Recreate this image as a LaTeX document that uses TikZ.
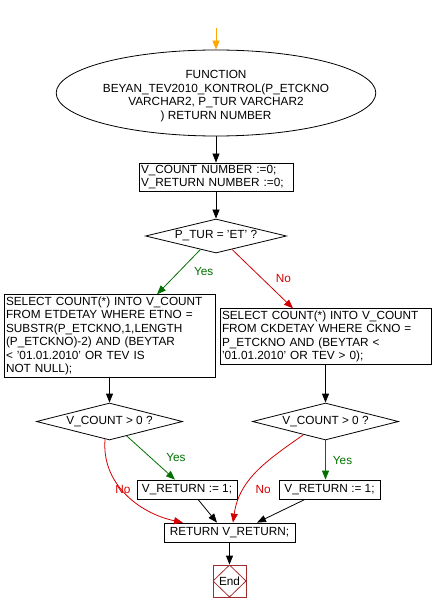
\documentclass[tikz,border=0pt]{standalone}
\usepackage{fontspec}
\setsansfont{Liberation Sans}
\usetikzlibrary{shapes.geometric, arrows.meta}
\definecolor{yescol}{RGB}{0,112,0}
\definecolor{nocol}{RGB}{210,0,0}
\definecolor{startcol}{RGB}{255,165,0}
\definecolor{endcol}{RGB}{160,45,45}
\tikzset{ fn/.style = { ellipse
                      , draw
                      , line width     = 0.8pt
                      , inner sep      = 0pt
                      , minimum width  = 264pt
                      , minimum height = 86pt
                      , align          = center
                      },
          st/.style = { rectangle
                      , draw
                      , line width = 0.8pt
                      , inner sep  = 2pt
                      , align      = left
                      },
          dec/.style = { diamond
                       , draw
                       , line width = 0.8pt
                       , inner sep  = 0pt
                       , aspect     = 4
                       },
          fin/.style = { rectangle
                       , draw = endcol
                       , line width     = 0.8pt
                       , inner sep      = 0pt
                       , minimum width  = 33pt
                       , minimum height = 32pt
                       , path picture = {\draw[endcol, line width=0.8pt]
                           (path picture bounding box.north) -- (path picture bounding box.east)
                           -- (path picture bounding box.south) -- (path picture bounding box.west) -- cycle;}
                       },
          flow/.style = { draw, line width = 0.8pt, -{Triangle[length=9pt, width=7pt]} },
          lbl/.style  = { inner sep = 1pt }
        }

\begin{document}
\begin{tikzpicture}[x=1pt, y=-1pt, font=\sffamily\fontsize{11.8}{13.5}\selectfont]
    \useasboundingbox (0,0) rectangle (433,612);
    % function head
    \coordinate (top) at (216,28);
    \node[fn, text height=55pt] (func) at (216,93)
        {FUNCTION\\BEYAN\_TEV2010\_KONTROL(P\_ETCKNO\\VARCHAR2, P\_TUR VARCHAR2\\) RETURN NUMBER};
    \node[st, text width=150pt] (init) at (216,177)
        {V\_COUNT NUMBER :=0;\\V\_RETURN NUMBER :=0;};
    \node[dec, minimum width=141pt, minimum height=34pt] (tur) at (216,236) {P\_TUR = 'ET' ?};
    % the two selects
    \node[st, text width=207pt] (selet) at (109.5,336)
        {SELECT COUNT(*) INTO V\_COUNT\\FROM ETDETAY WHERE ETNO =\\SUBSTR(P\_ETCKNO,1,LENGTH\\(P\_ETCKNO)-2) AND (BEYTAR\\< '01.01.2010' OR TEV IS\\NOT NULL);};
    \node[st, text width=207pt] (selck) at (325.5,336.5)
        {SELECT COUNT(*) INTO V\_COUNT\\FROM CKDETAY WHERE CKNO =\\P\_ETCKNO AND (BEYTAR <\\'01.01.2010' OR TEV > 0);};
    \node[dec, minimum width=146pt, minimum height=37pt] (cntet) at (109.5,421.5) {V\_COUNT > 0 ?};
    \node[dec, minimum width=146pt, minimum height=37pt] (cntck) at (325.5,421.5) {V\_COUNT > 0 ?};
    \node[st, minimum width=100pt, minimum height=19pt, align=center] (retet) at (187,489.5) {V\_RETURN := 1;};
    \node[st, minimum width=101pt, minimum height=19pt, align=center] (retck) at (329.5,489.5) {V\_RETURN := 1;};
    \node[st, minimum width=131pt, minimum height=19pt, align=center] (ret) at (229.5,532.5) {RETURN V\_RETURN;};
    \node[fin] (stop) at (229.5,581) {End};

    \path[flow, draw=startcol] (top) -- (func.north);
    \path[flow] (func.south) -- (init.north);
    \path[flow] (init.south) -- (tur.north);
    \path[flow, draw=yescol] (tur.221) -- node[lbl, text=yescol, right=14pt] {Yes} ([xshift=47.5pt]selet.north);
    \path[flow, draw=nocol] (tur.320) -- node[lbl, text=nocol, right=12pt] {No} ([xshift=-32.5pt]selck.north);
    \path[flow] (selet.south) -- (cntet.north);
    \path[flow] (selck.south) -- (cntck.north);
    % left check
    \path[flow, draw=yescol] (cntet.320) -- node[lbl, text=yescol, right=14pt] {Yes} ([xshift=-12pt]retet.north);
    \path[flow, draw=nocol] (cntet.256) to[out=-95, in=168]
        node[lbl, text=nocol, pos=0.45, right=0pt, xshift=-8pt] {No} ([xshift=-46.5pt]ret.north);
    % right check
    \path[flow, draw=yescol] (cntck.south) -- node[lbl, text=yescol, right=6pt] {Yes} (cntck.south |- retck.north);
    \path[flow, draw=nocol] (cntck.211) to[out=215, in=82]
        node[lbl, text=nocol, pos=0.7, right=10pt] {No} ([xshift=3.5pt]ret.north);
    \path[flow] ([xshift=11pt]retet.south) -- ([xshift=-12.5pt]ret.north);
    \path[flow] ([xshift=-24.5pt]retck.south) -- ([xshift=27.5pt]ret.north);
    \path[flow] (ret.south) -- (stop.north);
\end{tikzpicture}
\end{document}
